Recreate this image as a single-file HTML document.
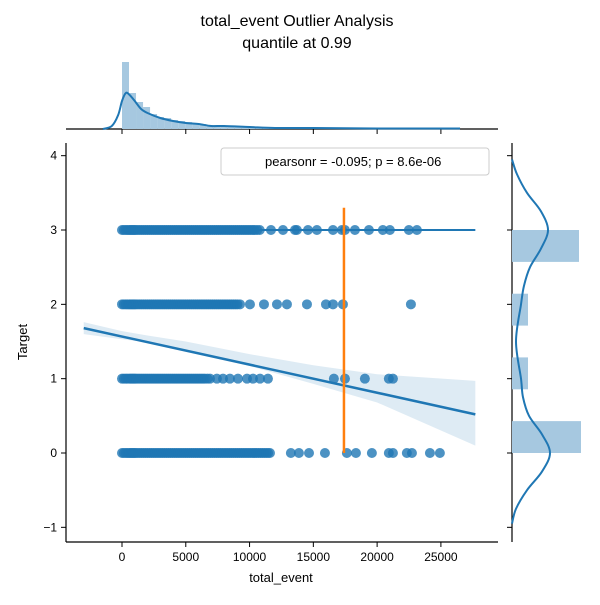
<!DOCTYPE html>
<html><head><meta charset="utf-8"><style>
body{margin:0;background:#fff}
svg{font-family:"Liberation Sans","DejaVu Sans",sans-serif}
</style></head><body>
<svg id="c" width="600" height="600" xmlns="http://www.w3.org/2000/svg">
<text x="297" y="26" font-size="16" text-anchor="middle">total_event Outlier Analysis</text>
<text x="297" y="48" font-size="16" text-anchor="middle">quantile at 0.99</text>
<g id="main"></g>
<g id="topm"></g>
<g id="rightm"></g>
<text x="281" y="582" font-size="13" text-anchor="middle">total_event</text>
<text transform="translate(27,342) rotate(-90)" font-size="13" text-anchor="middle">Target</text>
<rect x="221" y="148" width="268" height="27" rx="3" fill="#fff" stroke="#ccc"/>
<text x="265" y="166" font-size="13">pearsonr = -0.095; p = 8.6e-06</text>
</svg>
<script>
const xTicks=[0,5000,10000,15000,20000,25000];
const yTicks=[-1,0,1,2,3,4];
const row3=[0,150,300,450,600,700,800,900,1000,1100,1250,1400,1550,1700,1850,2000,2150,2300,2450,2600,2750,2900,3050,3200,3350,3500,3650,3800,3950,4100,4250,4400,4550,4700,4850,5000,5150,5300,5450,5600,5750,5900,6050,6200,6350,6500,6650,6800,6950,7100,7250,7400,7550,7700,7850,8000,8150,8300,8450,8600,8750,8900,9050,9200,9350,9500,9650,9800,9950,10100,10250,10400,10600,10800,11680,12620,13560,13710,14580,15280,16540,17240,17480,18260,19360,20450,21000,22490,23120];
const row2=[0,150,300,450,600,700,800,900,1000,1100,1250,1400,1550,1700,1850,2000,2150,2300,2450,2600,2750,2900,3050,3200,3350,3500,3650,3800,3950,4100,4250,4400,4550,4700,4850,5000,5150,5300,5450,5600,5750,5900,6050,6200,6350,6500,6650,6800,6950,7100,7250,7400,7550,7700,7850,8000,8150,8300,8450,8600,8750,8900,9050,9250,10030,11130,12150,12930,14500,15990,16540,17320,22650];
const row1=[0,150,300,450,600,700,800,900,1000,1100,1250,1400,1550,1700,1850,2000,2150,2300,2450,2600,2750,2900,3050,3200,3350,3500,3650,3800,3950,4100,4250,4400,4550,4700,4850,5000,5150,5300,5450,5600,5750,5900,6050,6200,6350,6500,6700,6900,7440,7920,8460,9090,9800,10270,10820,11440,16610,17480,19040,20920,21240];
const row0=[0,150,300,450,600,700,800,900,1000,1100,1250,1400,1550,1700,1850,2000,2150,2300,2450,2600,2750,2900,3050,3200,3350,3500,3650,3800,3950,4100,4250,4400,4550,4700,4850,5000,5150,5300,5450,5600,5750,5900,6050,6200,6350,6500,6650,6800,6950,7100,7250,7400,7550,7700,7850,8000,8150,8300,8450,8600,8750,8900,9050,9200,9350,9500,9650,9800,9950,10100,10250,10400,10550,10700,10850,11000,11150,11300,11450,11600,13240,13870,14660,15910,17630,18340,19590,20920,21240,22330,22730,24140,24920];
const regX=[-3000,27700];
const regY=[1.68,0.52];
const bandX=[-3000,0,2000,5000,10000,15000,20000,27700];
const bandLo=[1.60,1.53,1.49,1.38,1.17,0.93,0.68,0.10];
const bandHi=[1.76,1.64,1.58,1.50,1.33,1.18,1.06,0.97];
const cutoff=17400, cutTop=3.3;
const topBinX=[0,550,1100,1650,2200,2750,3300,3850,4400,4950,5500,6050,6600,7150,7700,8250,8800,9350,9900,10450,11000,11550,12100,13000,15000,17000,19000,21000,23000,25000];
const topBinH=[67,36,27,22,15,12,11,9,8,7,6,5,4,4,3,3,3,2,2,2,2,1,1,1,1,1,1,1,1,1];
const topKdeX=[-1500,-800,-300,0,300,600,1000,1500,2000,3000,4000,5000,6000,7000,8000,10000,12000,15000,20000,26500];
const topKdeH=[0,3,14,28,36,34,28,20,16,11,8,6,5,3,3,2,1,1,0.5,0.5];
const rightBins=[0,0.857,1.714,2.571];
const rightBinW=[69,16,16,67];
const rightKdeT=[-0.95,-0.75,-0.5,-0.25,0,0.25,0.5,0.75,1,1.5,2,2.25,2.5,2.75,3,3.25,3.5,3.75,3.95];
const rightKdeV=[0,4,15,30,38,30,17,11,9,4,9,12,18,29,36,29,15,5,0];
const sx=v=>122+v*0.012756;
const sy=t=>453-t*74.33;
const NS="http://www.w3.org/2000/svg";
function mk(p,tag,a){const e=document.createElementNS(NS,tag);for(const k in a)e.setAttribute(k,a[k]);p.appendChild(e);return e;}
function smooth(P){let d='M'+P[0][0]+','+P[0][1];for(let i=0;i<P.length-1;i++){const p0=P[i-1]||P[i],p1=P[i],p2=P[i+1],p3=P[i+2]||p2;
 d+=' C'+(p1[0]+(p2[0]-p0[0])/6)+','+(p1[1]+(p2[1]-p0[1])/6)+' '+(p2[0]-(p3[0]-p1[0])/6)+','+(p2[1]-(p3[1]-p1[1])/6)+' '+p2[0]+','+p2[1];}return d;}
const mainG=document.getElementById('main'),topG=document.getElementById('topm'),rightG=document.getElementById('rightm');
let e=mk(mainG,'line',{x1:66,y1:143,x2:66,y2:542,stroke:'#000','stroke-width':1.2});

e=mk(mainG,'line',{x1:66,y1:542,x2:498,y2:542,stroke:'#000','stroke-width':1.2});

xTicks.forEach(v=>{
 let t=mk(mainG,'line',{x1:sx(v),x2:sx(v),y1:542,y2:547,stroke:'#000'});
 
 let l=mk(mainG,'text',{x:sx(v),y:561,'font-size':12,'text-anchor':'middle'});l.textContent=v;
 
 let t2=mk(topG,'line',{x1:sx(v),x2:sx(v),y1:129,y2:134,stroke:'#000'});
 
});
yTicks.forEach(v=>{
 let t=mk(mainG,'line',{x1:61,x2:66,y1:sy(v),y2:sy(v),stroke:'#000'});
 
 let l=mk(mainG,'text',{x:57,y:sy(v)+4,'font-size':12,'text-anchor':'end'});l.textContent=v<0?'\u22121':v;
 
 let t2=mk(rightG,'line',{x1:507,x2:512,y1:sy(v),y2:sy(v),stroke:'#000'});
 
});
let pts=bandX.map((x,i)=>sx(x)+','+sy(bandHi[i])).concat(bandX.map((x,i)=>sx(x)+','+sy(bandLo[i])).reverse());
e=mk(mainG,'polygon',{points:pts.join(' '),fill:'#1f77b4','fill-opacity':0.15});

[[row0,0],[row1,1],[row2,2],[row3,3]].forEach(([arr,t])=>{arr.forEach(v=>{
 let c=mk(mainG,'circle',{cx:sx(v),cy:sy(t),r:5,fill:'#1f77b4','fill-opacity':0.8});
 
});});
e=mk(mainG,'line',{x1:sx(regX[0]),y1:sy(regY[0]),x2:sx(regX[1]),y2:sy(regY[1]),stroke:'#1f77b4','stroke-width':2.5});

e=mk(mainG,'line',{x1:sx(0),y1:sy(3),x2:sx(27700),y2:sy(3),stroke:'#1f77b4','stroke-width':2});

e=mk(mainG,'line',{x1:sx(cutoff),y1:sy(cutTop),x2:sx(cutoff),y2:sy(0),stroke:'#ff7f0e','stroke-width':2.5});

e=mk(topG,'line',{x1:66,y1:129,x2:498,y2:129,stroke:'#000','stroke-width':1.2});

topBinX.forEach((v,i)=>{
 let w=(i+1<topBinX.length?topBinX[i+1]:v+550)-v;
 let r=mk(topG,'rect',{x:sx(v),y:129-topBinH[i],width:sx(v+w)-sx(v),height:topBinH[i],fill:'#a6c8e0'});
 
});
e=mk(topG,'path',{d:smooth(topKdeX.map((x,i)=>[sx(x),129-topKdeH[i]])),fill:'none',stroke:'#1f77b4','stroke-width':2});

e=mk(rightG,'line',{x1:512,y1:143,x2:512,y2:542,stroke:'#000','stroke-width':1.2});

rightBins.forEach((b,i)=>{
 let r=mk(rightG,'rect',{x:512,y:sy(b+0.429),width:rightBinW[i],height:sy(b)-sy(b+0.429),fill:'#a6c8e0'});
 
});
e=mk(rightG,'path',{d:smooth(rightKdeT.map((t,i)=>[512+rightKdeV[i],sy(t)])),fill:'none',stroke:'#1f77b4','stroke-width':2});

</script>
</body></html>
